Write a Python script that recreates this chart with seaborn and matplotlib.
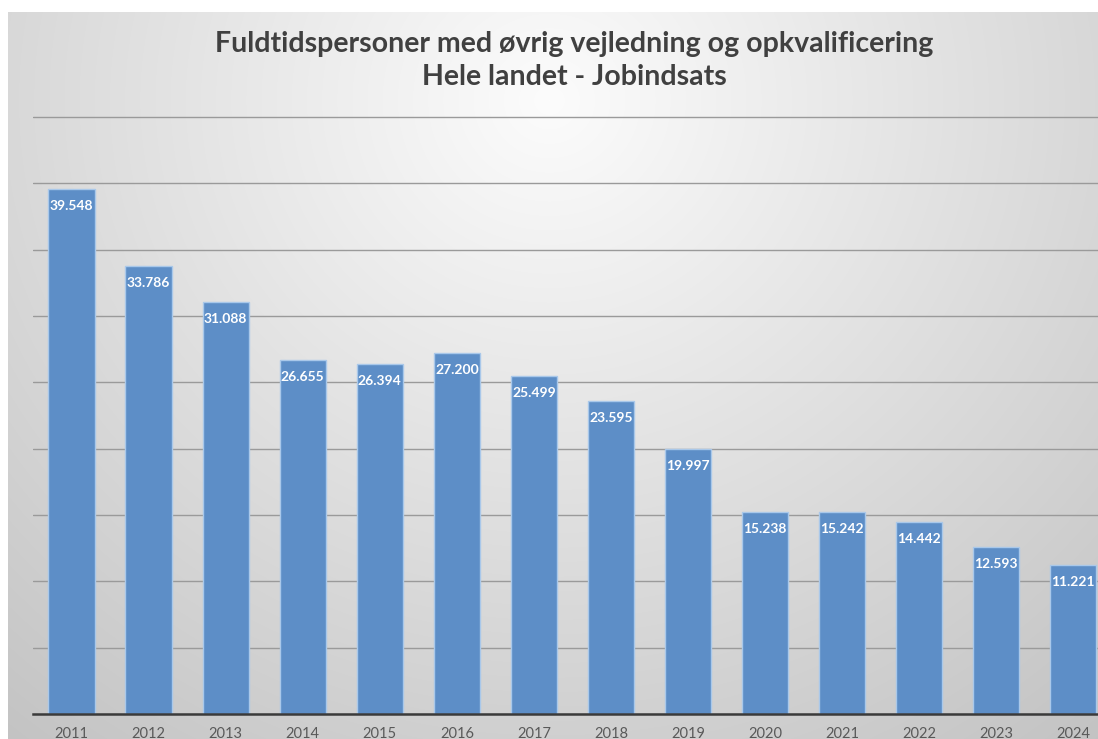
import numpy as np
import matplotlib
matplotlib.use("Agg")
import matplotlib.pyplot as plt
import seaborn as sns

years = ["2011", "2012", "2013", "2014", "2015", "2016", "2017",
         "2018", "2019", "2020", "2021", "2022", "2023", "2024"]
values = [39548, 33786, 31088, 26655, 26394, 27200, 25499,
          23595, 19997, 15238, 15242, 14442, 12593, 11221]
title_lines = ["Fuldtidspersoner med øvrig vejledning og opkvalificering",
               "Hele landet - Jobindsats"]

sns.set_theme(style="white")
plt.rcParams["font.family"] = ["Lato", "DejaVu Sans"]

W, H = 1098, 739
fig = plt.figure(figsize=(W / 100, H / 100), dpi=100)
fig.patch.set_facecolor("white")

# background radial gradient panel
bg = fig.add_axes([0, 0, 1, 1], zorder=0)
bg.axis("off")
yy, xx = np.mgrid[0:H, 0:W]
d = np.hypot(xx - 549, (yy - 100) * 1.05)
v = np.clip(252 - 0.066 * d, 0, 255) / 255.0
img = np.ones((H, W, 3))
mask = (xx >= 8) & (yy >= 12)
img[mask] = v[mask][:, None]
bg.imshow(img, extent=(0, W, H, 0), aspect="auto", interpolation="bilinear")
bg.set_xlim(0, W)
bg.set_ylim(H, 0)

# main axes
ymax = 46000
px_per_unit = (714 - 117) / 45000
ax_h = ymax * px_per_unit / H
ax = fig.add_axes([33 / W, 25 / H, (W - 33) / W, ax_h], zorder=1)
ax.patch.set_alpha(0)

sns.barplot(x=years, y=values, color="#5d8ec7", saturation=1, width=0.6,
            edgecolor="#a9c8ea", linewidth=1.0, ax=ax, zorder=3)

for p, val in zip(ax.patches, values):
    ax.annotate(f"{val:,}".replace(",", "."),
                (p.get_x() + p.get_width() / 2, p.get_height()),
                xytext=(0, -17), textcoords="offset pixels",
                ha="center", va="center", color="white",
                fontsize=10, fontweight="bold", zorder=5)

ax.set_ylim(0, ymax)
ax.set_xlim(-0.5, 13.32)
ax.set_yticks(np.arange(0, 45001, 5000))
ax.set_yticklabels([])
ax.yaxis.grid(True, color="#9a9a9a", linewidth=1.0, zorder=0)
ax.set_axisbelow(True)
for s in ["top", "right", "left"]:
    ax.spines[s].set_visible(False)
ax.spines["bottom"].set_color("#3a3a3a")
ax.spines["bottom"].set_linewidth(1.8)
ax.spines["bottom"].set_zorder(4)
ax.tick_params(axis="x", length=0, pad=9, labelsize=10.5, labelcolor="#595959")
ax.tick_params(axis="y", length=0)
ax.set_xlabel("")
ax.set_ylabel("")

fig.text(0.523, 1 - 44 / H, title_lines[0], ha="center", va="center",
         fontsize=20.5, fontweight="bold", color="#404040")
fig.text(0.523, 1 - 77 / H, title_lines[1], ha="center", va="center",
         fontsize=20.5, fontweight="bold", color="#404040")

fig.savefig("out.png", dpi=100)
